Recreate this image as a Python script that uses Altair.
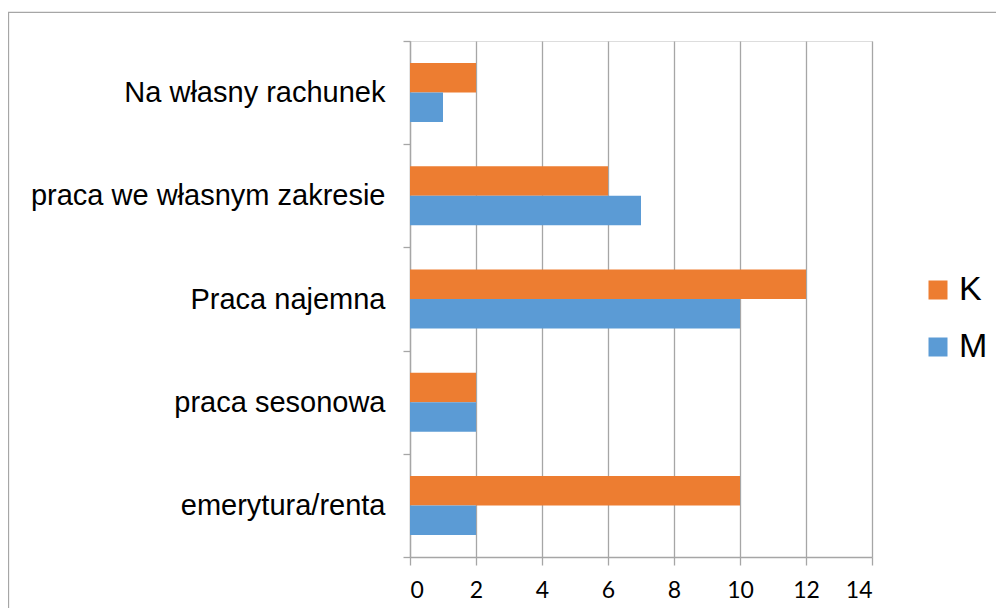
import altair as alt
import pandas as pd

categories = ["Na własny rachunek", "praca we własnym zakresie", "Praca najemna",
              "praca sesonowa", "emerytura/renta"]
series = ["K", "M"]
values_K = [2, 6, 12, 2, 10]
values_M = [1, 7, 10, 2, 2]
colors = ["#ED7D31", "#5B9BD5"]
x_ticks = [0, 2, 4, 6, 8, 10, 12, 14]

rows = []
for c, k, m in zip(categories, values_K, values_M):
    rows.append({"kategoria": c, "seria": "K", "wartosc": k})
    rows.append({"kategoria": c, "seria": "M", "wartosc": m})
df = pd.DataFrame(rows)

GRAY = "#A6A6A6"

bars = alt.Chart(df).mark_bar().encode(
    x=alt.X("wartosc:Q",
            scale=alt.Scale(domain=[0, 14], nice=False, zero=True),
            axis=alt.Axis(values=x_ticks, title=None, grid=True, gridColor=GRAY,
                          gridWidth=1.3, domainColor=GRAY, domainWidth=1.3,
                          tickColor=GRAY, tickWidth=1.3, tickSize=8,
                          labelFont="Lato", labelFontSize=23, labelColor="#000000",
                          labelPadding=14)),
    y=alt.Y("kategoria:N", sort=categories,
            scale=alt.Scale(paddingInner=0, paddingOuter=0),
            axis=alt.Axis(title=None, tickBand="extent", domainColor=GRAY,
                          domainWidth=1.3, tickColor=GRAY, tickWidth=1.3, tickSize=7,
                          labelFont="Liberation Sans", labelFontSize=29,
                          labelColor="#000000", labelPadding=18, labelLimit=500)),
    yOffset=alt.YOffset("seria:N", sort=series,
                        scale=alt.Scale(paddingInner=0, paddingOuter=0.75)),
    color=alt.Color("seria:N", sort=series,
                    scale=alt.Scale(domain=series, range=colors),
                    legend=alt.Legend(title=None, orient="none", legendX=511, legendY=232,
                                      direction="vertical", symbolType="square",
                                      symbolSize=361, symbolStrokeWidth=0,
                                      labelFont="Liberation Sans", labelFontSize=34,
                                      labelColor="#000000", labelOffset=4,
                                      rowPadding=23, padding=0)),
)

frame = alt.Chart(pd.DataFrame({"f": [0]})).mark_rect(
    fill=None, stroke=GRAY, strokeWidth=1.3
).encode(
    x=alt.value(-401.5), x2=alt.value(700),
    y=alt.value(-28.7), y2=alt.value(700),
)

chart = alt.layer(frame, bars).properties(
    width=462, height=516,
    autosize=alt.AutoSizeParams(type="none"),
    padding={"left": 402, "top": 33, "right": 124, "bottom": 51},
).configure_view(stroke=None).configure(background="white")

chart.save("out.html", embed_options={"renderer": "svg", "actions": False})
